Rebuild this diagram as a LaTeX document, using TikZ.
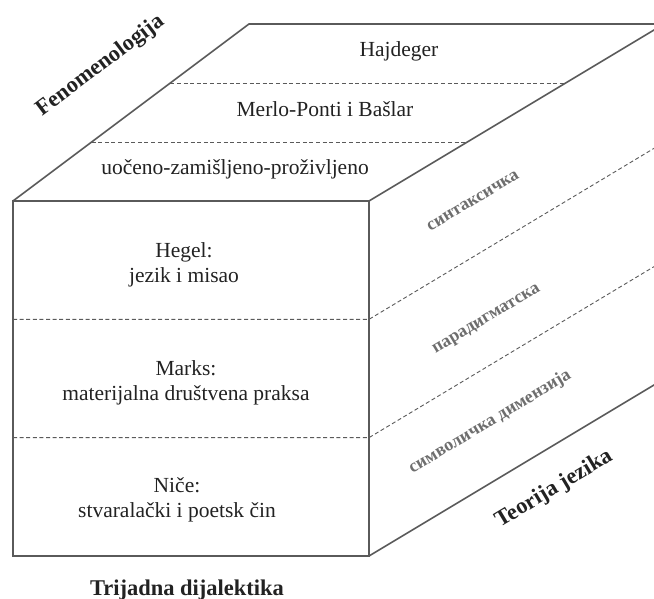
\documentclass[tikz,border=0pt]{standalone}
\usepackage{fontspec}
\setmainfont{Liberation Serif}
\usetikzlibrary{calc}
\definecolor{linegray}{HTML}{5A5A5A}
\definecolor{textdark}{HTML}{222222}
\definecolor{cyrgray}{HTML}{6E6E6E}
\begin{document}
\begin{tikzpicture}[x=1pt,y=-1pt,
  edge/.style={draw=linegray, line width=1.6pt, line join=miter},
  divider/.style={draw=linegray, line width=0.9pt, dash pattern=on 4pt off 2.6pt},
  tierlabel/.style={font=\fontsize{21.5}{25}\selectfont, text=textdark, inner sep=0pt, align=center},
  axislabel/.style={font=\fontsize{22.5}{26}\selectfont\bfseries, text=textdark, inner sep=0pt},
  sidelabel/.style={font=\fontsize{18}{20}\selectfont\bfseries, text=cyrgray, inner sep=0pt, rotate=31}
]
\useasboundingbox (0,0) rectangle (654,599);
\clip (0,0) rectangle (654,599);

% corners of the box
\coordinate (A) at (13,201);   % front top left
\coordinate (B) at (369,201);  % front top right
\coordinate (C) at (369,556);  % front bottom right
\coordinate (D) at (13,556);   % front bottom left
\coordinate (E) at (249,24);   % back top left
\coordinate (F) at (664,24);   % back top right
\coordinate (G) at (664,379);  % back bottom right

% tier dividers
\draw[divider] ($(A)!1/3!(D)$) -- ($(B)!1/3!(C)$) -- ($(F)!1/3!(G)$);
\draw[divider] ($(A)!2/3!(D)$) -- ($(B)!2/3!(C)$) -- ($(F)!2/3!(G)$);
\draw[divider] ($(A)!1/3!(E)$) -- ($(B)!1/3!(F)$);
\draw[divider] ($(A)!2/3!(E)$) -- ($(B)!2/3!(F)$);

% outline
\draw[edge] (A) -- (B) -- (C) -- (D) -- cycle;
\draw[edge] (A) -- (E) -- (F) -- (B);
\draw[edge] (C) -- (G);

% top face
\node[tierlabel, anchor=base] (hajdeger) at (399,57) {Hajdeger};
\node[tierlabel, anchor=base] (merlo) at (325,117) {Merlo-Ponti i Bašlar};
\node[tierlabel, anchor=base] (uoceno) at (235,175) {uočeno-zamišljeno-proživljeno};

% front face (base = baseline of the second line)
\node[tierlabel, anchor=base] (hegel) at (184,283) {Hegel:\\jezik i misao};
\node[tierlabel, anchor=base] (marks) at (186,400) {Marks:\\materijalna društvena praksa};
\node[tierlabel, anchor=base] (nice) at (177,517) {Niče:\\stvaralački i poetsk čin};

% right face
\node[sidelabel] (sint) at (473,201) {синтаксичка};
\node[sidelabel] (parad) at (487,320) {парадигматска};
\node[sidelabel] (simb) at (490,422) {символичка димензија};

% axis titles
\node[axislabel, rotate=37] (fenom) at (101,66) {Fenomenologija};
\node[axislabel, rotate=31] (teorija) at (554,489) {Teorija jezika};
\node[axislabel, anchor=base] (trijada) at (187,595) {Trijadna dijalektika};
\end{tikzpicture}
\end{document}
